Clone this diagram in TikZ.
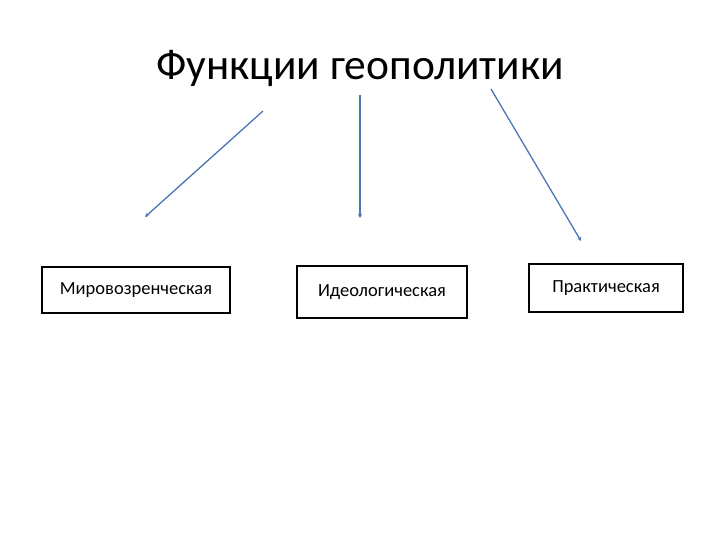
\documentclass[tikz,border=0pt]{standalone}
\usepackage{fontspec}
\setmainfont{Carlito}
\usetikzlibrary{arrows.meta}

\tikzset{
    funcbox/.style={draw=black, line width=1.8pt, inner sep=0pt, font=\fontsize{18.5}{22}\selectfont},
    funcarrow/.style={draw={rgb,255:red,74;green,118;blue,180}, line width=1.3pt, -{Stealth[length=4pt,width=4pt]}}
}

\begin{document}
\begin{tikzpicture}[x=1pt, y=-1pt]

    \useasboundingbox (0, 0) rectangle (720, 540);

    \node[font=\fontsize{43.5}{52}\selectfont] (title) at (360, 68) {Функции геополитики};

    \node[funcbox, minimum width=188pt, minimum height=46pt] (world) at (136, 290) {Мировозренческая};
    \node[funcbox, minimum width=170pt, minimum height=52pt] (ideo) at (382, 292) {Идеологическая};
    \node[funcbox, minimum width=154pt, minimum height=48pt] (prac) at (606, 288) {Практическая};

    \coordinate (s1) at (263, 111);
    \coordinate (e1) at (145, 217);
    \coordinate (s2) at (360, 95);
    \coordinate (e2) at (360, 218);
    \coordinate (s3) at (491, 89);
    \coordinate (e3) at (581, 241);

    \draw[funcarrow] (s1) -- (e1);
    \draw[funcarrow] (s2) -- (e2);
    \draw[funcarrow] (s3) -- (e3);

\end{tikzpicture}
\end{document}
